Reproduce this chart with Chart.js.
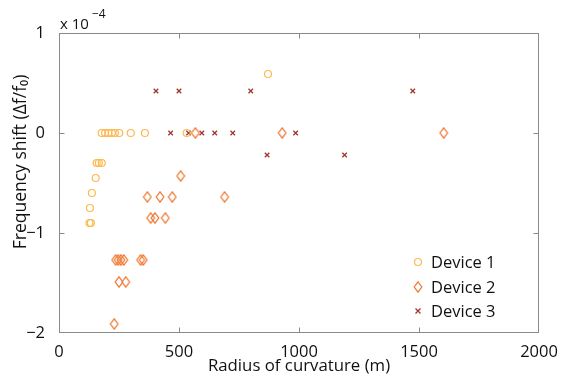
<!DOCTYPE html>
<html><head><meta charset="utf-8">
<script src="https://cdn.jsdelivr.net/npm/chart.js@4"></script>
<style>html,body{margin:0;padding:0;background:#fff}</style>
</head><body>
<canvas id="c" width="562" height="376"></canvas>
<script>
// Radius of curvature (m)
const device1Radius = [178,192,206,220,233,251,299,358,532,871,157,166,178,153,137,129,127,133];
// Frequency shift, in units of 10^-4
const device1Shift  = [0,0,0,0,0,0,0,0,0,0.59,-0.30,-0.30,-0.30,-0.45,-0.60,-0.75,-0.90,-0.90];

const device2Radius = [568,930,1603,507,368,421,472,690,382,400,443,236,247,258,270,340,351,250,278,230];
const device2Shift  = [0,0,0,-0.43,-0.64,-0.64,-0.64,-0.64,-0.85,-0.85,-0.85,-1.27,-1.27,-1.27,-1.27,-1.27,-1.27,-1.49,-1.49,-1.91];

const device3Radius = [404,500,799,1474,465,540,595,649,724,986,867,1190];
const device3Shift  = [0.42,0.42,0.42,0.42,0,0,0,0,0,0,-0.22,-0.22];

const seriesNames = ['Device 1','Device 2','Device 3'];
const xTicks = [0,500,1000,1500,2000];
const yTicks = [-2,-1,0,1];
const yExponent = '\u22124';
const xTitle = 'Radius of curvature (m)';
const yTitle = 'Frequency shift (\u0394f/f\u2080)';

const C1 = '#fdb850', C2 = '#ef7a35', C3 = '#a1352b';
const FONT = '"Open Sans", sans-serif';
const TXT = '#111';

function diamondCanvas(color){
  const cv = document.createElement('canvas');
  cv.width = 10; cv.height = 12;
  const g = cv.getContext('2d');
  g.strokeStyle = color; g.lineWidth = 1.25;
  g.beginPath();
  g.moveTo(5,0.8); g.lineTo(8.8,6); g.lineTo(5,11.2); g.lineTo(1.2,6); g.closePath();
  g.stroke();
  return cv;
}
const diamond = diamondCanvas(C2);

function pts(xs, ys){ return xs.map((x,i)=>({x:x, y:ys[i]})); }

const boxPlugin = {
  id:'box',
  afterDatasetsDraw(chart){
    const {ctx, chartArea:a, scales} = chart;
    ctx.save();
    ctx.strokeStyle = '#8a8a8a'; ctx.lineWidth = 1;
    const L = Math.round(a.left)+0.5, R = Math.round(a.right)-0.5, T = Math.round(a.top)+0.5, B = Math.round(a.bottom)-0.5;
    ctx.strokeRect(L, T, R-L, B-T);
    ctx.beginPath();
    scales.x.ticks.forEach(t=>{
      const px = Math.round(scales.x.getPixelForValue(t.value))+0.5;
      if (px <= L+1 || px >= R-1) return;
      ctx.moveTo(px,B); ctx.lineTo(px,B-5);
      ctx.moveTo(px,T); ctx.lineTo(px,T+5);
    });
    scales.y.ticks.forEach(t=>{
      const py = Math.round(scales.y.getPixelForValue(t.value))+0.5;
      if (py <= T+1 || py >= B-1) return;
      ctx.moveTo(L,py); ctx.lineTo(L+5,py);
      ctx.moveTo(R,py); ctx.lineTo(R-5,py);
    });
    ctx.stroke();
    ctx.restore();
  },
  afterDraw(chart){
    const {ctx, chartArea:a} = chart;
    ctx.save();
    ctx.fillStyle = TXT;
    // exponent label
    ctx.textBaseline = 'alphabetic'; ctx.textAlign = 'left';
    ctx.font = '15px ' + FONT;
    ctx.fillText('x 10', a.left+1, 29);
    const w = ctx.measureText('x 10').width;
    ctx.font = '12px ' + FONT;
    ctx.fillText(yExponent, a.left+2+w+2, 18);
    // y title
    ctx.save();
    ctx.translate(21, 162);
    ctx.rotate(-Math.PI/2);
    ctx.textAlign = 'center'; ctx.textBaseline = 'middle';
    ctx.font = '17.5px ' + FONT;
    ctx.fillText(yTitle, 0, 0);
    ctx.restore();
    // legend
    const lx = 418, ly = [262, 287, 311];
    ctx.font = '16.5px ' + FONT;
    ctx.textAlign = 'left'; ctx.textBaseline = 'middle';
    seriesNames.forEach((n,i)=>{
      const y = ly[i];
      if (i===0){ ctx.strokeStyle=C1; ctx.lineWidth=1.2; ctx.beginPath(); ctx.arc(lx,y,3.5,0,Math.PI*2); ctx.stroke(); }
      if (i===1){ ctx.drawImage(diamond, lx-5, y-6); }
      if (i===2){ ctx.strokeStyle=C3; ctx.lineWidth=1.3; ctx.beginPath(); ctx.moveTo(lx-2.5,y-2.5); ctx.lineTo(lx+2.5,y+2.5); ctx.moveTo(lx+2.5,y-2.5); ctx.lineTo(lx-2.5,y+2.5); ctx.stroke(); }
      ctx.fillStyle = TXT;
      ctx.fillText(n, 431, y+1);
    });
    ctx.restore();
  }
};

new Chart(document.getElementById('c'), {
  type:'scatter',
  data:{ datasets:[
    {label:seriesNames[0], data:pts(device1Radius,device1Shift), pointStyle:'circle', pointRadius:3.5, borderColor:C1, backgroundColor:'rgba(0,0,0,0)', borderWidth:1.2},
    {label:seriesNames[1], data:pts(device2Radius,device2Shift), pointStyle:diamond, pointRadius:5, borderColor:C2, backgroundColor:'rgba(0,0,0,0)', borderWidth:1.2},
    {label:seriesNames[2], data:pts(device3Radius,device3Shift), pointStyle:'crossRot', pointRadius:3.2, borderColor:C3, backgroundColor:C3, borderWidth:1.3}
  ]},
  options:{
    responsive:false, animation:false, devicePixelRatio:1,
    layout:{padding:{left:0, right:23, top:33, bottom:0}},
    plugins:{legend:{display:false}, tooltip:{enabled:false}},
    scales:{
      x:{type:'linear', min:0, max:2000,
        afterBuildTicks:s=>{ s.ticks = xTicks.map(v=>({value:v})); },
        afterFit:s=>{ s.height = 43; },
        grid:{display:false}, border:{display:false},
        ticks:{color:TXT, font:{family:FONT, size:16.5}, padding:1, maxRotation:0, autoSkip:false,
          callback:v=>String(v)},
        title:{display:true, text:xTitle, color:TXT, font:{family:FONT, size:16.8}, padding:{top:0,bottom:0}}
      },
      y:{type:'linear', min:-2, max:1,
        afterBuildTicks:s=>{ s.ticks = yTicks.map(v=>({value:v})); },
        afterFit:s=>{ s.width = 59; },
        grid:{display:false}, border:{display:false},
        ticks:{color:TXT, font:{family:FONT, size:16.5}, padding:6, autoSkip:false,
          callback:v=> v<0 ? '\u2212'+Math.abs(v) : String(v)}
      }
    }
  },
  plugins:[boxPlugin]
});
</script>
</body></html>
